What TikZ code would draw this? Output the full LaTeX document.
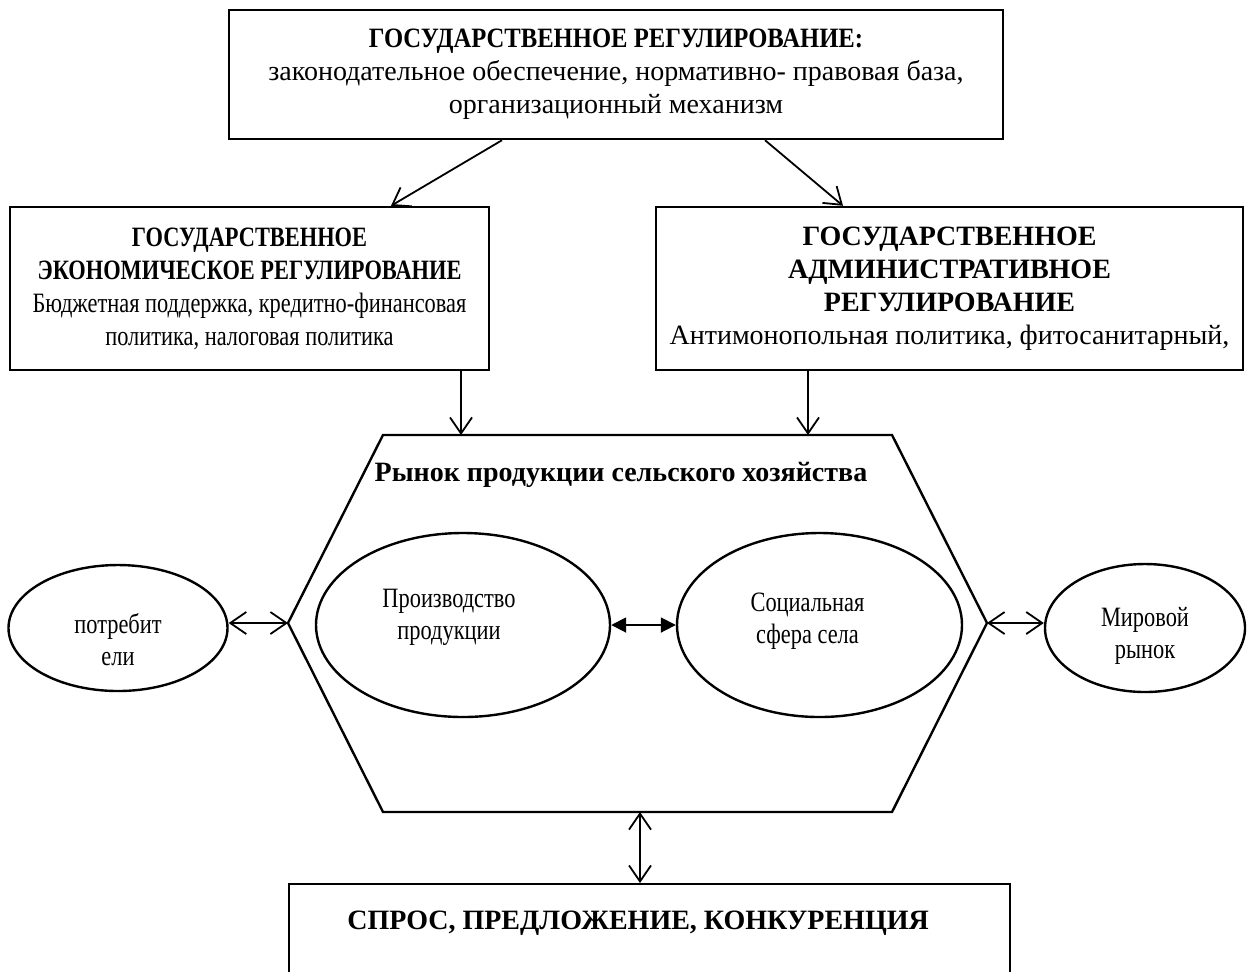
\documentclass[tikz,border=0pt]{standalone}
\usepackage{fontspec}
\setmainfont{Liberation Serif}
\newfontfamily\narrowfont[FakeStretch=0.8]{Liberation Serif}
\newfontfamily\headfont[FakeStretch=0.88]{Liberation Serif}
\usetikzlibrary{arrows.meta,shapes.geometric,positioning}

\tikzset{
  box/.style={draw, line width=1.2pt, align=center, inner sep=0pt},
  oval/.style={draw, ellipse, line width=1.2pt, inner sep=0pt},
  ovaltext/.style={align=center, font=\fontsize{14}{16}\narrowfont},
  link/.style={line width=0.9pt, -{Straight Barb[length=8pt,width=11pt]}},
  dlink/.style={line width=0.9pt, {Straight Barb[length=8pt,width=11pt]}-{Straight Barb[length=8pt,width=11pt]}},
  fatlink/.style={line width=0.9pt, {Triangle[length=7.5pt,width=7.5pt]}-{Triangle[length=7.5pt,width=7.5pt]}},
}

\begin{document}
\begin{tikzpicture}[x=0.5pt, y=-0.5pt, font=\fontsize{14}{16.5}\selectfont]
  \useasboundingbox (0,0) rectangle (1251,971);

  % BOXES
  \node[box, minimum width=387pt, minimum height=64.5pt] (gosreg) at (616,74.5)
    {{\headfont\bfseries ГОСУДАРСТВЕННОЕ РЕГУЛИРОВАНИЕ:}\\ законодательное обеспечение, нормативно- правовая база,\\ организационный механизм};
  \node[box, minimum width=239.5pt, minimum height=81.5pt, font=\fontsize{14}{16.5}\narrowfont] (econ) at (249.5,288.5)
    {\textbf{ГОСУДАРСТВЕННОЕ}\\ \textbf{ЭКОНОМИЧЕСКОЕ РЕГУЛИРОВАНИЕ}\\ Бюджетная поддержка, кредитно-финансовая\\ политика, налоговая политика};
  \node[box, minimum width=293.5pt, minimum height=81.5pt] (admin) at (949.5,288.5)
    {\textbf{ГОСУДАРСТВЕННОЕ}\\ \textbf{АДМИНИСТРАТИВНОЕ}\\ \textbf{РЕГУЛИРОВАНИЕ}\\ Антимонопольная политика, фитосанитарный,};
  \node[box, anchor=north, minimum width=360.5pt, minimum height=100pt] (demand) at (649.5,883) {};
  \node[font=\fontsize{14}{16.5}\selectfont\bfseries] (spros) at (638,923) {СПРОС, ПРЕДЛОЖЕНИЕ, КОНКУРЕНЦИЯ};

  % HEXAGON
  \coordinate (h1) at (383,435);
  \coordinate (h2) at (892,435);
  \coordinate (h3) at (987,623);
  \coordinate (h4) at (892,812);
  \coordinate (h5) at (383,812);
  \coordinate (h6) at (288,623);
  \draw[line width=1.2pt] (h1) -- (h2) -- (h3) -- (h4) -- (h5) -- (h6) -- cycle;
  \node[font=\fontsize{14}{16.5}\selectfont\bfseries] (market) at (621,475) {Рынок продукции сельского хозяйства};

  % OVALS
  \node[oval, minimum width=147pt, minimum height=92pt] (prod) at (463,625) {};
  \node[oval, minimum width=142.5pt, minimum height=92pt] (social) at (819.5,625) {};
  \node[oval, minimum width=109.5pt, minimum height=63pt] (consum) at (118,628) {};
  \node[oval, minimum width=100pt, minimum height=64pt] (world) at (1145,628) {};
  \node[ovaltext] (prodtext) at ([xshift=-7pt, yshift=4pt]prod.center) {Производство\\ продукции};
  \node[ovaltext] (socialtext) at ([xshift=-6pt, yshift=2pt]social.center) {Социальная\\ сфера села};
  \node[ovaltext] (consumtext) at ([yshift=-6pt]consum.center) {потребит\\ ели};
  \node[ovaltext] (worldtext) at ([yshift=-4pt]world.center) {Мировой\\ рынок};

  % LINES:
  \draw[link] (gosreg.south -| 502,0) -- (econ.north -| 391,0);
  \draw[link] (gosreg.south -| 765,0) -- (admin.north -| 843,0);
  \draw[link] (econ.south -| 461,0) -- (h1 -| 461,0);
  \draw[link] (admin.south -| 808,0) -- (h1 -| 808,0);
  \draw[dlink] (consum.east |- h6) -- (h6);
  \draw[dlink] (h3) -- (world.west |- h3);
  \draw[fatlink] (prod.east) -- (social.west);
  \draw[dlink] (h4 -| 640,0) -- (demand.north -| 640,0);
\end{tikzpicture}
\end{document}
